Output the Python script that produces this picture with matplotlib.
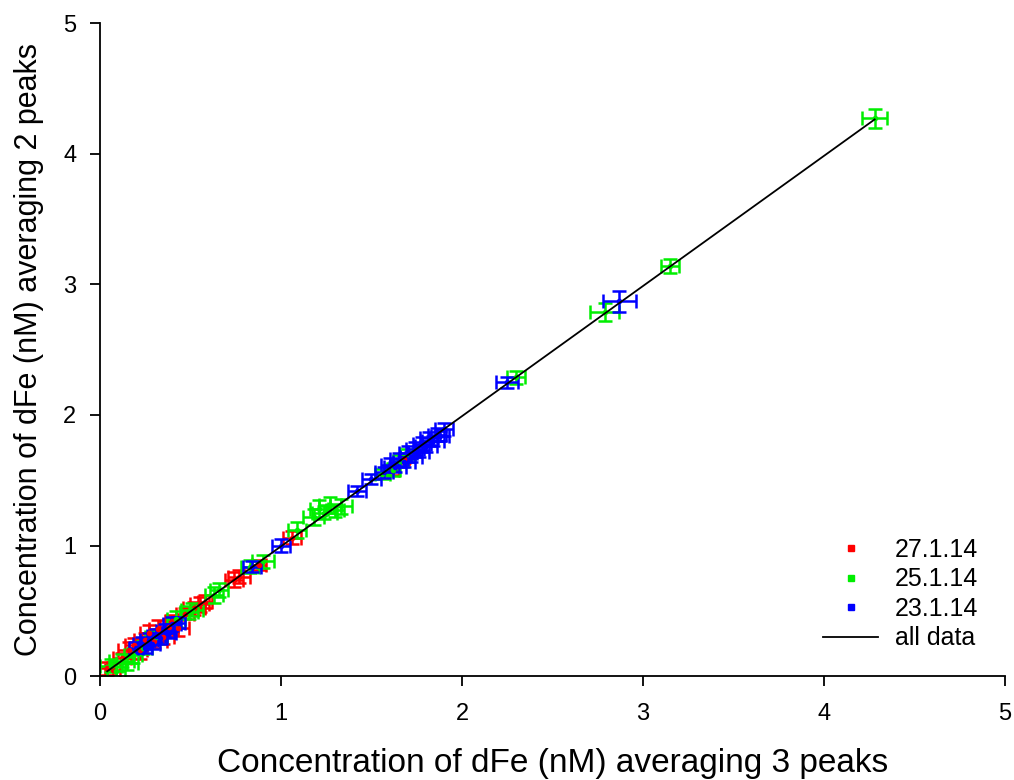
import numpy as np
import matplotlib
matplotlib.use("Agg")
import matplotlib.pyplot as plt
from matplotlib.lines import Line2D

plt.rcParams['font.family'] = ['Liberation Sans', 'DejaVu Sans']

# 27.1.14
red_x = [0.04, 0.07, 0.12, 0.16, 0.19, 0.22, 0.25, 0.27, 0.30, 0.32, 0.35, 0.38,
         0.40, 0.43, 0.47, 0.52, 0.55, 0.58, 0.74, 0.77, 0.88, 1.06, 1.62, 1.68]
red_y = [0.06, 0.05, 0.14, 0.20, 0.24, 0.20, 0.28, 0.33, 0.27, 0.36, 0.30, 0.38,
         0.42, 0.37, 0.48, 0.52, 0.55, 0.57, 0.74, 0.76, 0.85, 1.06, 1.58, 1.66]
red_xerr = [0.05, 0.04, 0.05, 0.06, 0.05, 0.04, 0.06, 0.05, 0.07, 0.05, 0.06, 0.05,
            0.04, 0.06, 0.05, 0.06, 0.05, 0.04, 0.05, 0.06, 0.04, 0.05, 0.03, 0.03]
red_yerr = [0.05, 0.06, 0.04, 0.06, 0.05, 0.07, 0.05, 0.06, 0.05, 0.07, 0.05, 0.06,
            0.05, 0.06, 0.04, 0.05, 0.06, 0.05, 0.06, 0.05, 0.04, 0.05, 0.04, 0.03]

# 25.1.14
green_x = [0.06, 0.09, 0.12, 0.15, 0.18, 0.24, 0.31, 0.42, 0.49, 0.51, 0.63, 0.66,
           0.83, 0.90, 1.09, 1.18, 1.21, 1.24, 1.27, 1.30, 1.33, 1.56, 1.62, 1.66,
           1.70, 2.30, 2.79, 3.15, 4.28]
green_y = [0.08, 0.04, 0.12, 0.10, 0.16, 0.22, 0.30, 0.44, 0.49, 0.51, 0.62, 0.66,
           0.84, 0.88, 1.12, 1.22, 1.28, 1.25, 1.31, 1.27, 1.30, 1.55, 1.58, 1.65,
           1.70, 2.29, 2.79, 3.14, 4.27]
green_xerr = [0.06, 0.05, 0.07, 0.06, 0.05, 0.05, 0.06, 0.05, 0.05, 0.06, 0.05, 0.05,
              0.05, 0.06, 0.05, 0.06, 0.05, 0.07, 0.06, 0.05, 0.06, 0.04, 0.04, 0.04,
              0.04, 0.05, 0.08, 0.05, 0.07]
green_yerr = [0.05, 0.06, 0.05, 0.05, 0.06, 0.05, 0.05, 0.06, 0.05, 0.05, 0.06, 0.05,
              0.05, 0.05, 0.06, 0.06, 0.07, 0.05, 0.06, 0.05, 0.06, 0.04, 0.05, 0.04,
              0.04, 0.05, 0.07, 0.05, 0.07]

# 23.1.14
blue_x = [0.20, 0.23, 0.25, 0.27, 0.29, 0.31, 0.33, 0.36, 0.38, 0.40, 0.43, 0.84,
          1.00, 1.42, 1.50, 1.57, 1.60, 1.63, 1.65, 1.68, 1.70, 1.72, 1.74, 1.76,
          1.78, 1.80, 1.82, 1.84, 1.86, 1.88, 1.90, 2.25, 2.87]
blue_y = [0.22, 0.25, 0.22, 0.28, 0.25, 0.31, 0.29, 0.35, 0.33, 0.40, 0.41, 0.84,
          1.00, 1.42, 1.51, 1.56, 1.62, 1.60, 1.66, 1.64, 1.71, 1.68, 1.74, 1.72,
          1.78, 1.76, 1.82, 1.80, 1.85, 1.84, 1.89, 2.25, 2.87]
blue_xerr = [0.04, 0.05, 0.04, 0.05, 0.04, 0.05, 0.04, 0.05, 0.04, 0.05, 0.04, 0.05,
             0.05, 0.05, 0.05, 0.05, 0.05, 0.06, 0.05, 0.06, 0.05, 0.06, 0.05, 0.06,
             0.05, 0.06, 0.05, 0.06, 0.05, 0.05, 0.05, 0.06, 0.09]
blue_yerr = [0.04, 0.05, 0.04, 0.05, 0.04, 0.05, 0.04, 0.05, 0.04, 0.05, 0.04, 0.04,
             0.05, 0.04, 0.04, 0.04, 0.05, 0.04, 0.05, 0.04, 0.05, 0.04, 0.05, 0.04,
             0.05, 0.04, 0.05, 0.04, 0.05, 0.04, 0.05, 0.04, 0.08]

series = [
    ("27.1.14", red_x, red_y, red_xerr, red_yerr, "#ff0000"),
    ("25.1.14", green_x, green_y, green_xerr, green_yerr, "#00ee00"),
    ("23.1.14", blue_x, blue_y, blue_xerr, blue_yerr, "#0000ff"),
]

fig = plt.figure(figsize=(10.14, 7.8), dpi=100)
ax = fig.add_axes([0.0986, 0.133, 0.8925, 0.8375])

handles = []
for label, xs, ys, xe, ye, col in series:
    ax.errorbar(xs, ys, xerr=xe, yerr=ye, fmt='o', ms=3, color=col, ecolor=col,
                elinewidth=1.8, capsize=5, capthick=1.8, zorder=2)
    handles.append(Line2D([], [], marker='s', ls='none', color=col, ms=5, label=label))

# regression over all data
all_x = np.array(red_x + green_x + blue_x)
all_y = np.array(red_y + green_y + blue_y)
slope, icpt = np.polyfit(all_x, all_y, 1)
xl = np.array([all_x.min(), all_x.max()])
ax.plot(xl, slope * xl + icpt, color='black', lw=1.3, zorder=3)
handles.append(Line2D([], [], color='black', lw=1.3, label='all data'))

ax.set_xlim(0, 5)
ax.set_ylim(0, 5)
ax.set_xticks(range(6))
ax.set_yticks(range(6))
ax.spines['top'].set_visible(False)
ax.spines['right'].set_visible(False)
ax.spines['left'].set_linewidth(1.3)
ax.spines['bottom'].set_linewidth(1.3)
ax.tick_params(direction='out', length=7, width=1.3, labelsize=17)
ax.tick_params(axis='x', pad=12)
ax.tick_params(axis='y', pad=10)

ax.set_xlabel("Concentration of dFe (nM) averaging 3 peaks", fontsize=24)
ax.set_ylabel("Concentration of dFe (nM) averaging 2 peaks", fontsize=22)
ax.xaxis.set_label_coords(0.5, -0.11)
ax.yaxis.set_label_coords(-0.062, 0.5)

ax.legend(handles=handles, loc='lower right', bbox_to_anchor=(0.995, 0.005),
          frameon=False, fontsize=18, handlelength=2.2, handletextpad=0.65,
          labelspacing=0.22)

fig.savefig("out.png", dpi=100)
